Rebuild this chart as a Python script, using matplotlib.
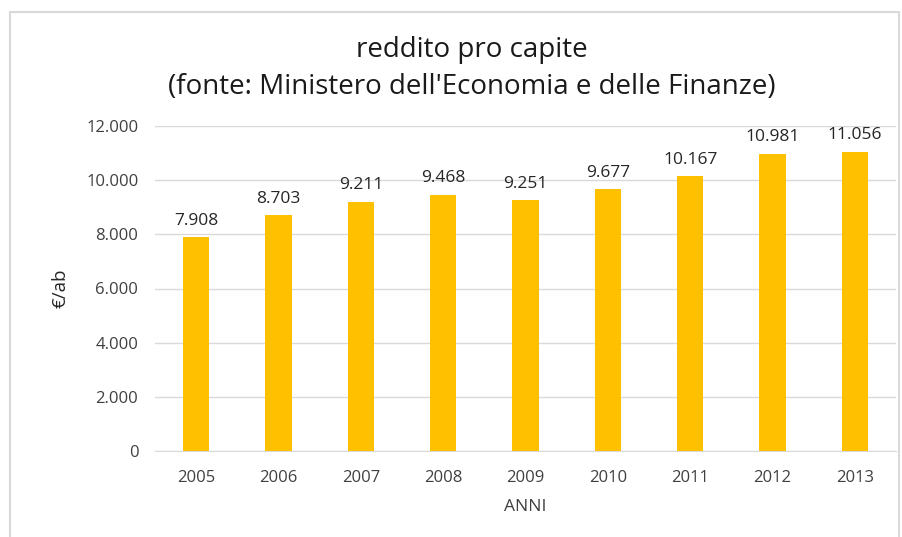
import matplotlib
matplotlib.use("Agg")
import matplotlib.pyplot as plt
from matplotlib.patches import Rectangle

years = ["2005", "2006", "2007", "2008", "2009", "2010", "2011", "2012", "2013"]
income = [7908, 8703, 9211, 9468, 9251, 9677, 10167, 10981, 11056]
yticks = [0, 2000, 4000, 6000, 8000, 10000, 12000]


def fmt(v):
    return f"{v:,}".replace(",", ".")


plt.rcParams['font.family'] = ['Open Sans', 'DejaVu Sans']

fig = plt.figure(figsize=(9.03, 5.37), dpi=100)
# chart frame
fig.patches.append(Rectangle((10 / 903, -0.01), 889 / 903, 1 - 12 / 537 + 0.01,
                             transform=fig.transFigure, fill=False,
                             edgecolor='#d9d9d9', linewidth=1.5))

ax = fig.add_axes([155 / 903, 86 / 537, 741 / 903, 325 / 537])
x = range(len(years))
ax.bar(x, income, width=0.32, color='#FFC000', zorder=3)
for i, v in zip(x, income):
    ax.text(i, v + 300, fmt(v), ha='center', va='bottom', fontsize=12.5, color='#262626')

ax.set_xlim(-0.5, len(years) - 0.5)
ax.set_ylim(0, 12000)
ax.set_yticks(yticks)
ax.set_yticklabels([fmt(t) for t in yticks], fontsize=12, color='#404040')
ax.set_xticks(list(x))
ax.set_xticklabels(years, fontsize=12, color='#404040')
ax.tick_params(length=0, pad=12)
ax.tick_params(axis='x', pad=14)
ax.grid(axis='y', color='#d9d9d9', linewidth=1, zorder=0)
for s in ['top', 'right', 'left']:
    ax.spines[s].set_visible(False)
ax.spines['bottom'].set_color('#d9d9d9')

ax.set_xlabel('ANNI', fontsize=12.5, color='#404040', labelpad=9)
ax.set_ylabel('€/ab', fontsize=13.5, color='#262626', labelpad=12)

fig.text(0.523, 1 - 50 / 537, 'reddito pro capite', ha='center', va='center',
         fontsize=20, color='#1a1a1a')
fig.text(0.523, 1 - 87 / 537, "(fonte: Ministero dell'Economia e delle Finanze)",
         ha='center', va='center', fontsize=20, color='#1a1a1a')

fig.savefig('out.png', dpi=100)
